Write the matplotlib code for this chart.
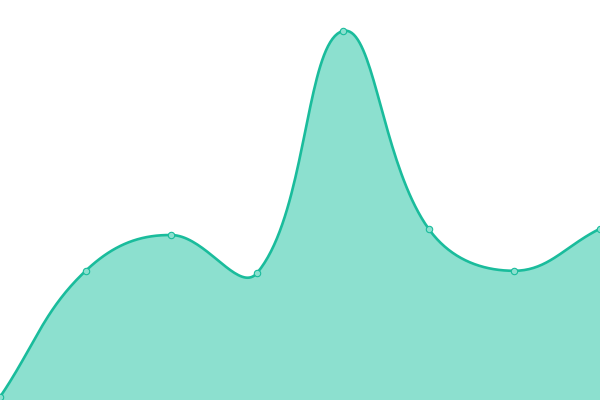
import numpy as np
import matplotlib
matplotlib.use("Agg")
import matplotlib.pyplot as plt

# values
labels = ["A", "B", "C", "D", "E", "F", "G", "H"]
values = [0, 30, 38.5, 29.5, 87, 40, 30, 40]

line_color = "#1abc9c"
fill_color = "#8ce0cf"

W, H = 600, 400
y_min, y_max = -0.713, 94.37


def spline_points(px, py, tension=0.4, steps=40):
    # Chart.js style cardinal spline, computed in pixel space
    n = len(px)
    cps = []
    for i in range(n):
        prev_i = max(i - 1, 0)
        next_i = min(i + 1, n - 1)
        d01 = np.hypot(px[i] - px[prev_i], py[i] - py[prev_i])
        d12 = np.hypot(px[next_i] - px[i], py[next_i] - py[i])
        tot = d01 + d12
        s01 = d01 / tot if tot else 0
        s12 = d12 / tot if tot else 0
        fa, fb = tension * s01, tension * s12
        dx, dy = px[next_i] - px[prev_i], py[next_i] - py[prev_i]
        cps.append(((px[i] - fa * dx, py[i] - fa * dy),
                    (px[i] + fb * dx, py[i] + fb * dy)))
    xs, ys = [px[0]], [py[0]]
    t = np.linspace(0, 1, steps)[1:]
    for i in range(n - 1):
        p0 = np.array([px[i], py[i]])
        p1 = np.array(cps[i][1])
        p2 = np.array(cps[i + 1][0])
        p3 = np.array([px[i + 1], py[i + 1]])
        for tt in t:
            b = ((1 - tt) ** 3) * p0 + 3 * ((1 - tt) ** 2) * tt * p1 \
                + 3 * (1 - tt) * tt ** 2 * p2 + tt ** 3 * p3
            xs.append(b[0])
            ys.append(b[1])
    return np.array(xs), np.array(ys)


x = np.arange(len(values))
sx = W / (len(values) - 1)
sy = H / (y_max - y_min)
px = x * sx
py = (np.array(values) - y_min) * sy
cx, cy = spline_points(px, py)
curve_x = cx / sx
curve_y = cy / sy + y_min

fig = plt.figure(figsize=(6, 4), dpi=100)
ax = fig.add_axes([0, 0, 1, 1])
ax.fill_between(curve_x, curve_y, y_min, color=fill_color, linewidth=0)
ax.plot(curve_x, curve_y, color=line_color, linewidth=1.9, solid_capstyle="round")
ax.plot(x, values, linestyle="none", marker="o", markersize=4.6,
        markerfacecolor=fill_color, markeredgecolor=line_color, markeredgewidth=0.8)
ax.set_xlim(0, len(values) - 1)
ax.set_ylim(y_min, y_max)
ax.axis("off")

fig.savefig("out.png", dpi=100)
